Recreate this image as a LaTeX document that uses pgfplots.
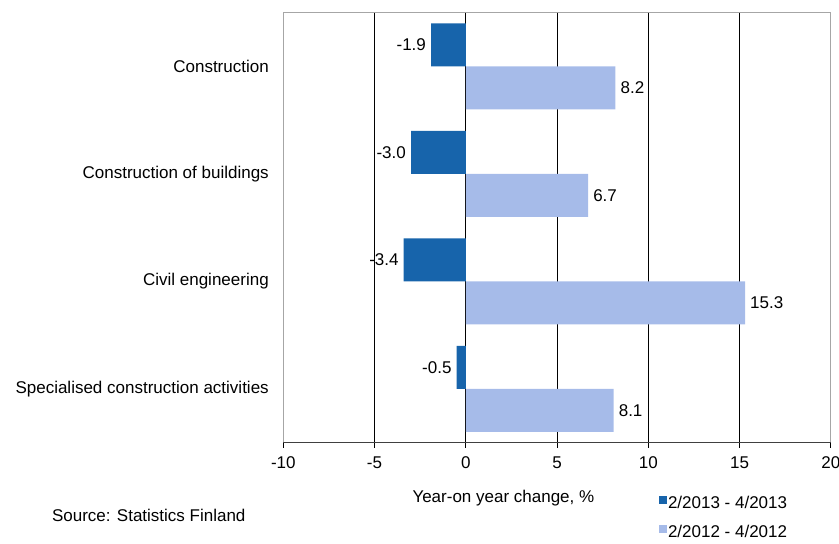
\documentclass[border=0pt]{standalone}
\usepackage{pgfplots}
\pgfplotsset{compat=1.18}
\usepackage{fontspec}
\setmainfont{Liberation Sans}
\definecolor{darkbar}{RGB}{23,100,171}
\definecolor{lightbar}{RGB}{166,187,233}
\begin{document}
\begin{tikzpicture}[font=\fontsize{17}{20}\selectfont]
\path[use as bounding box] (-283.3pt,-101.5pt) rectangle (555.7pt,442.5pt);
\begin{axis}[
  at={(0pt,0pt)}, anchor=south west,
  scale only axis, width=547.5pt, height=430pt,
  clip=false,
  xbar, bar width=0.4,
  xmin=-10, xmax=20,
  ymin=-0.5, ymax=3.5, y dir=reverse,
  xtick={-10,-5,0,5,10,15,20},
  xticklabels={-10,-5,0,5,10,15,20},
  xticklabel style={yshift=-6pt},
  xtick pos=left, tick align=outside,
  major tick length=5pt,
  major tick style={black, line width=0.8pt},
  ytick={0,1,2,3},
  yticklabels={Construction,Construction of buildings,Civil engineering,Specialised construction activities},
  ytick style={draw=none},
  yticklabel style={xshift=-6pt},
  extra x ticks={-5,0,5,10,15},
  extra x tick labels={},
  extra x tick style={grid=major, major grid style={black, line width=1pt}},
  axis line style={gray!70, line width=0.8pt},
  xlabel={Year-on year change, \%},
  xlabel style={at={(axis description cs:0.402,-0.1300)}, anchor=center},
  legend style={at={(axis description cs:0.685,-0.1767)}, anchor=west, draw=none, fill=none,
    inner sep=0pt, row sep=11pt, nodes={inner sep=1.5pt, text height=12pt, text depth=3pt}},
  legend cell align=left,
]
\addplot[fill=darkbar, draw=none, bar shift=-0.2,
  nodes near coords, point meta=explicit symbolic,
  nodes near coords style={anchor=east, text=black, inner sep=5pt},
  legend image code/.code={\fill[darkbar] (0pt,0pt) rectangle (8pt,8pt);}]
  table[meta=lab] {
x y lab
-1.9 0 -1.9
-3.0 1 -3.0
-3.4 2 -3.4
-0.5 3 -0.5
};
\addlegendentry{2/2013 - 4/2013}
\addplot[fill=lightbar, draw=none, bar shift=0.2,
  nodes near coords, point meta=explicit symbolic,
  nodes near coords style={anchor=west, text=black, inner sep=5pt},
  legend image code/.code={\fill[lightbar] (0pt,0pt) rectangle (8pt,8pt);}]
  table[meta=lab] {
x y lab
8.2 0 8.2
6.7 1 6.7
15.3 2 15.3
8.1 3 8.1
};
\addlegendentry{2/2012 - 4/2012}
\draw[black!75, line width=1pt] (axis description cs:0,0) -- (axis description cs:1,0);
\node at (axis description cs:-0.2457,-0.1686) {Source: Statistics Finland};
\end{axis}
\end{tikzpicture}
\end{document}
